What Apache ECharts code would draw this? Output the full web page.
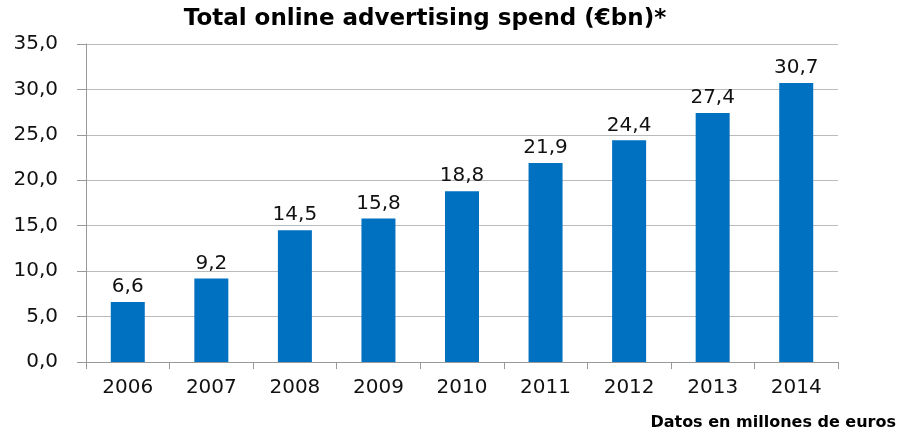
<!DOCTYPE html>
<html><head><meta charset="utf-8">
<script src="https://cdn.jsdelivr.net/npm/echarts@6/dist/echarts.min.js"></script>
<style>html,body{margin:0;padding:0;background:#fff}#c{width:903px;height:429px}</style>
</head><body><div id="c"></div>
<script>
var categories = ['2006','2007','2008','2009','2010','2011','2012','2013','2014'];
var values = [6.6, 9.2, 14.5, 15.8, 18.8, 21.9, 24.4, 27.4, 30.7];
var titleText = 'Total online advertising spend (€bn)*';
var footerText = 'Datos en millones de euros';
function fmt(v){ return v.toFixed(1).replace('.', ','); }
var chart = echarts.init(document.getElementById('c'));
chart.setOption({
  animation: false,
  title: [{text: titleText, left: 420, textAlign: 'center', top: 3,
    textStyle: {fontFamily: 'DejaVu Sans', fontWeight: 'bold', fontSize: 23, color: '#000'}},
    {text: footerText, right: 2, top: 410,
    textStyle: {fontFamily: 'DejaVu Sans', fontWeight: 'bold', fontSize: 16, color: '#000'}}],
  grid: {left: 86, right: 65, top: 44, bottom: 67},
  xAxis: {type: 'category', data: categories,
    axisLine: {lineStyle: {color: '#999'}},
    axisTick: {show: true, length: 7, lineStyle: {color: '#999'}},
    axisLabel: {fontFamily: 'DejaVu Sans', fontSize: 20, color: '#111', margin: 16}},
  yAxis: {type: 'value', min: 0, max: 35, interval: 5,
    axisLine: {show: true, lineStyle: {color: '#999'}},
    axisTick: {show: true, length: 9, lineStyle: {color: '#999'}},
    splitLine: {lineStyle: {color: '#bbb'}},
    axisLabel: {fontFamily: 'DejaVu Sans', fontSize: 20, color: '#111', margin: 28, formatter: fmt}},
  series: [{type: 'bar', data: values, barWidth: 34,
    itemStyle: {color: '#0070C0'},
    label: {show: true, position: 'top', distance: 5, fontFamily: 'DejaVu Sans', fontSize: 20, color: '#111', formatter: function(p){return fmt(p.value);}}}]
});
</script></body></html>
